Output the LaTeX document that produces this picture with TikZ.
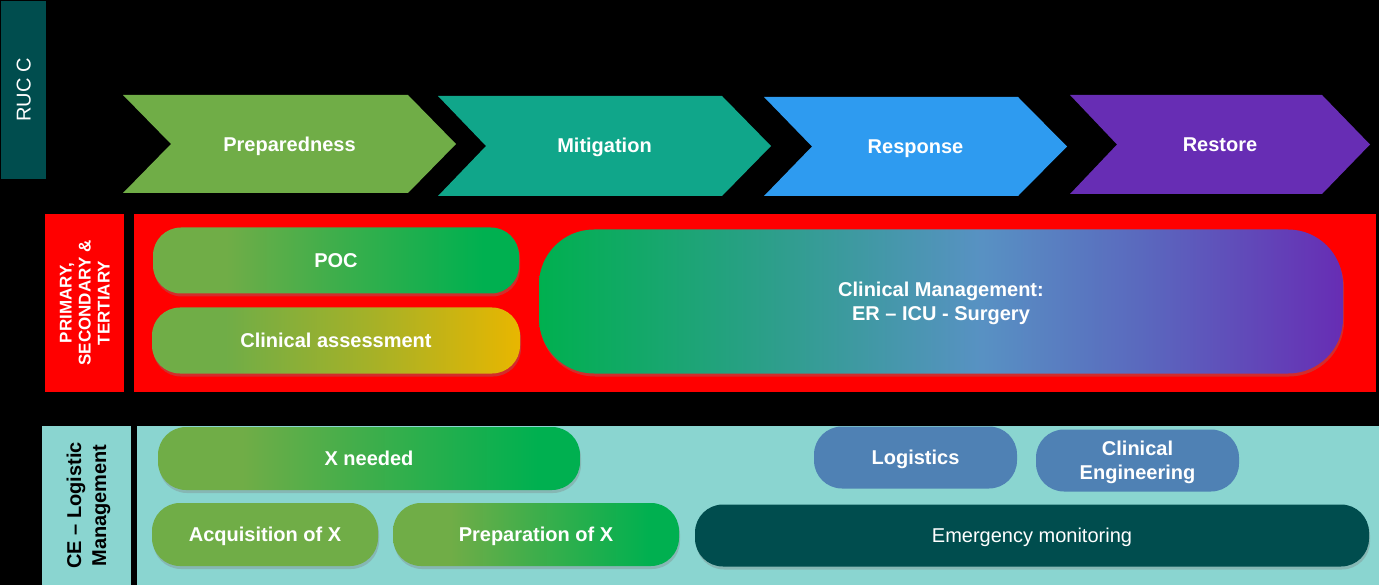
\documentclass[tikz,border=0pt]{standalone}
\usepackage{fontspec}
\setmainfont{Liberation Sans}
\usetikzlibrary{shadows}
\definecolor{ruc}{RGB}{0,77,78}
\definecolor{grA}{RGB}{112,173,71}
\definecolor{grB}{RGB}{0,176,80}
\definecolor{goldc}{RGB}{232,182,0}
\definecolor{mitc}{RGB}{16,166,138}
\definecolor{resc}{RGB}{46,155,240}
\definecolor{rstc}{RGB}{103,45,180}
\definecolor{lteal}{RGB}{138,213,208}
\definecolor{logb}{RGB}{79,129,180}
\pgfdeclarehorizontalshading{cmshade}{100bp}{rgb(0bp)=(0,.69,.31); rgb(25bp)=(0,.69,.31);
  rgb(37.5bp)=(.15,.63,.51); rgb(52.5bp)=(.345,.57,.765); rgb(62.5bp)=(.353,.41,.745);
  rgb(75bp)=(.404,.176,.706); rgb(100bp)=(.404,.176,.706)}
\pgfdeclarehorizontalshading{grshade}{100bp}{color(0bp)=(grA); color(35bp)=(grA);
  color(50bp)=(grA!55!grB); color(70bp)=(grB); color(100bp)=(grB)}
\pgfdeclarehorizontalshading{goldshade}{100bp}{color(0bp)=(grA); color(35bp)=(grA);
  color(55bp)=(grA!55!goldc); color(75bp)=(goldc); color(100bp)=(goldc)}
\begin{document}
\begin{tikzpicture}[x=1pt,y=-1pt,
  big/.style={font=\bfseries\fontsize{20}{24}\selectfont,text height=14.3pt,text depth=0pt},
  twolines/.style={text height=38.3pt,text depth=0pt},
  chevtxt/.style={big,text=white,inner sep=0pt},
  lab/.style={rotate=90,inner sep=0pt,align=center},
  pill/.style={big,text=white,rounded corners=28pt,inner sep=0pt,align=center,
    drop shadow={opacity=0.35,shadow xshift=1pt,shadow yshift=-3pt}},
  flatpill/.style={big,text=white,rounded corners=28pt,inner sep=0pt,align=center}
]
\useasboundingbox (0,0) rectangle (1379,585);
\fill[black] (0,0) rectangle (1379,585);

% RUC C
\node[lab,fill=ruc,text=white,minimum width=178pt,minimum height=45pt,
  font=\fontsize{20}{24}\selectfont,text height=14.3pt,text depth=0pt] (ruc) at (23.5,90) {RUC C};

% chevrons
\fill[grA] (123,95) -- (408,95) -- (456,144) -- (408,193) -- (123,193) -- (171,144) -- cycle;
\node[chevtxt] (prep) at (289.5,144) {Preparedness};
\fill[mitc] (438,96) -- (722,96) -- (771,146) -- (722,196) -- (438,196) -- (486,146) -- cycle;
\node[chevtxt] (mit) at (604.5,145.5) {Mitigation};
\fill[resc] (764,97) -- (1018,97) -- (1067,146.5) -- (1018,196) -- (764,196) -- (812,146.5) -- cycle;
\node[chevtxt] (resp) at (915.5,146.5) {Response};
\fill[rstc] (1070,95) -- (1322,95) -- (1370,144.5) -- (1322,194) -- (1070,194) -- (1117,144.5) -- cycle;
\node[chevtxt] (rest) at (1220,144.5) {Restore};

% red row
\node[lab,fill=red,text=white,minimum width=178pt,minimum height=79pt,
  font=\bfseries\fontsize{17}{19}\selectfont,text height=50.2pt,text depth=0pt] (pst) at (84.5,303)
  {PRIMARY,\\SECONDARY \&\\TERTIARY};
\fill[red] (134,214) rectangle (1376,392);
\node[pill,shading=grshade,minimum width=366pt,minimum height=66pt] (poc) at (336,260.5) {POC};
\node[pill,shading=goldshade,minimum width=368pt,minimum height=66pt] (ca) at (336,340.5) {Clinical assessment};
\node[pill,twolines,rounded corners=55pt,shading=cmshade,
  minimum width=804pt,minimum height=144pt] (cm) at (941,301.5)
  {Clinical Management:\\ER \textendash{} ICU - Surgery};

% CE row
\node[lab,fill=lteal,text=black,minimum width=159pt,minimum height=89pt,
  font=\bfseries\fontsize{20}{25}\selectfont,text height=39.3pt,text depth=0pt] (ce) at (86.5,505.5)
  {CE \textendash{} Logistic\\Management};
\fill[lteal] (137,426) rectangle (1379,585);
\node[pill,shading=grshade,minimum width=422pt,minimum height=63pt] (xn) at (369,458.5) {X needed};
\node[pill,fill=grA,minimum width=226pt,minimum height=63pt] (acq) at (265,534.5) {Acquisition of X};
\node[pill,shading=grshade,minimum width=286pt,minimum height=63pt] (prx) at (536,534.5) {Preparation of X};
\node[flatpill,fill=logb,minimum width=203pt,minimum height=62pt] (log) at (915.5,457.5) {Logistics};
\node[flatpill,twolines,fill=logb,minimum width=203pt,minimum height=62pt] (cle) at (1137.5,460.5) {Clinical\\Engineering};
\node[pill,fill=ruc,font=\fontsize{20}{24}\selectfont,minimum width=674pt,minimum height=62pt] (em) at (1032,535.5) {Emergency monitoring};
\end{tikzpicture}
\end{document}
